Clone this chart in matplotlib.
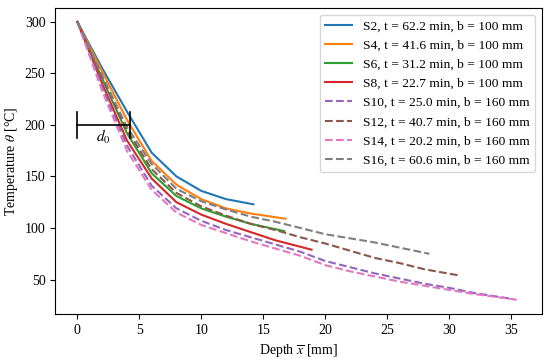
import matplotlib
matplotlib.use("Agg")
from matplotlib import pyplot as plt

plt.rcParams['font.family'] = ['Liberation Serif', 'DejaVu Serif']
plt.rcParams['mathtext.fontset'] = 'stix'
plt.rcParams['font.size'] = 10

# depth [mm] and temperature [°C]
x_s2 = [0, 2, 4, 6, 8, 10, 12, 14.2]
t_s2 = [300, 255, 213, 173, 150, 136, 128, 123]
x_s4 = [0, 2, 4, 6, 8, 10, 12, 14, 16.8]
t_s4 = [300, 252, 205, 165, 142, 128, 119, 114, 109]
x_s6 = [0, 2, 4, 6, 8, 10, 12, 14, 16.7]
t_s6 = [300, 245, 192, 153, 131, 119, 111, 104, 97]
x_s8 = [0, 2, 4, 6, 8, 10, 12, 14, 16, 18.9]
t_s8 = [300, 240, 185, 148, 125, 113, 104, 96, 88, 79]
x_s10 = [0, 2, 4, 6, 8, 10, 12, 14, 16, 18, 20, 22, 24, 26, 28, 30, 32, 35.2]
t_s10 = [300, 237, 180, 141, 119, 107, 98, 91, 84, 77, 68, 62, 56, 51, 46, 42, 37, 31]
x_s12 = [0, 2, 4, 6, 8, 10, 12, 14, 16, 18, 20, 22, 24, 26, 28, 30.8]
t_s12 = [300, 246, 195, 157, 134, 121, 112, 104, 98, 91, 85, 78, 71, 66, 60, 54]
x_s14 = [0, 2, 4, 6, 8, 10, 12, 14, 16, 18, 20, 22, 24, 26, 28, 30, 32, 35.7]
t_s14 = [300, 233, 175, 137, 115, 103, 95, 87, 80, 73, 64, 58, 53, 48, 44, 40, 36, 30]
x_s16 = [0, 2, 4, 6, 8, 10, 12, 14, 16, 18, 20, 22, 24, 26, 28.4]
t_s16 = [300, 248, 198, 162, 138, 126, 118, 111, 106, 100, 94, 90, 86, 81, 75]

labels = ['S2, t = 62.2 min, b = 100 mm', 'S4, t = 41.6 min, b = 100 mm',
          'S6, t = 31.2 min, b = 100 mm', 'S8, t = 22.7 min, b = 100 mm',
          'S10, t = 25.0 min, b = 160 mm', 'S12, t = 40.7 min, b = 160 mm',
          'S14, t = 20.2 min, b = 160 mm', 'S16, t = 60.6 min, b = 160 mm']

d0 = 4.25

fig = plt.figure(figsize=(5.5, 3.61), dpi=100)
ax = fig.add_axes([0.1005, 0.13, 0.8845, 0.848])

series = [(x_s2, t_s2), (x_s4, t_s4), (x_s6, t_s6), (x_s8, t_s8),
          (x_s10, t_s10), (x_s12, t_s12), (x_s14, t_s14), (x_s16, t_s16)]
for i, ((xs, ts), lab) in enumerate(zip(series, labels)):
    ax.plot(xs, ts, '-' if i < 4 else '--', color='C%d' % i, lw=1.5, label=lab)

# d0 marker
ax.plot([0, d0], [200, 200], color='k', lw=1.2)
ax.plot([0, 0], [187, 213], color='k', lw=1.2)
ax.plot([d0, d0], [187, 213], color='k', lw=1.2)
ax.text(d0 / 2, 188, '$d_0$', ha='center', va='center', fontsize=11)

ax.set_xlabel(r'Depth $\overline{x}$ [mm]')
ax.set_ylabel(r'Temperature $\theta$ [°C]')
ax.yaxis.set_label_coords(-0.073, 0.5)
ax.legend(loc='upper right', fontsize=9.7)

fig.savefig('out.png', dpi=100)
